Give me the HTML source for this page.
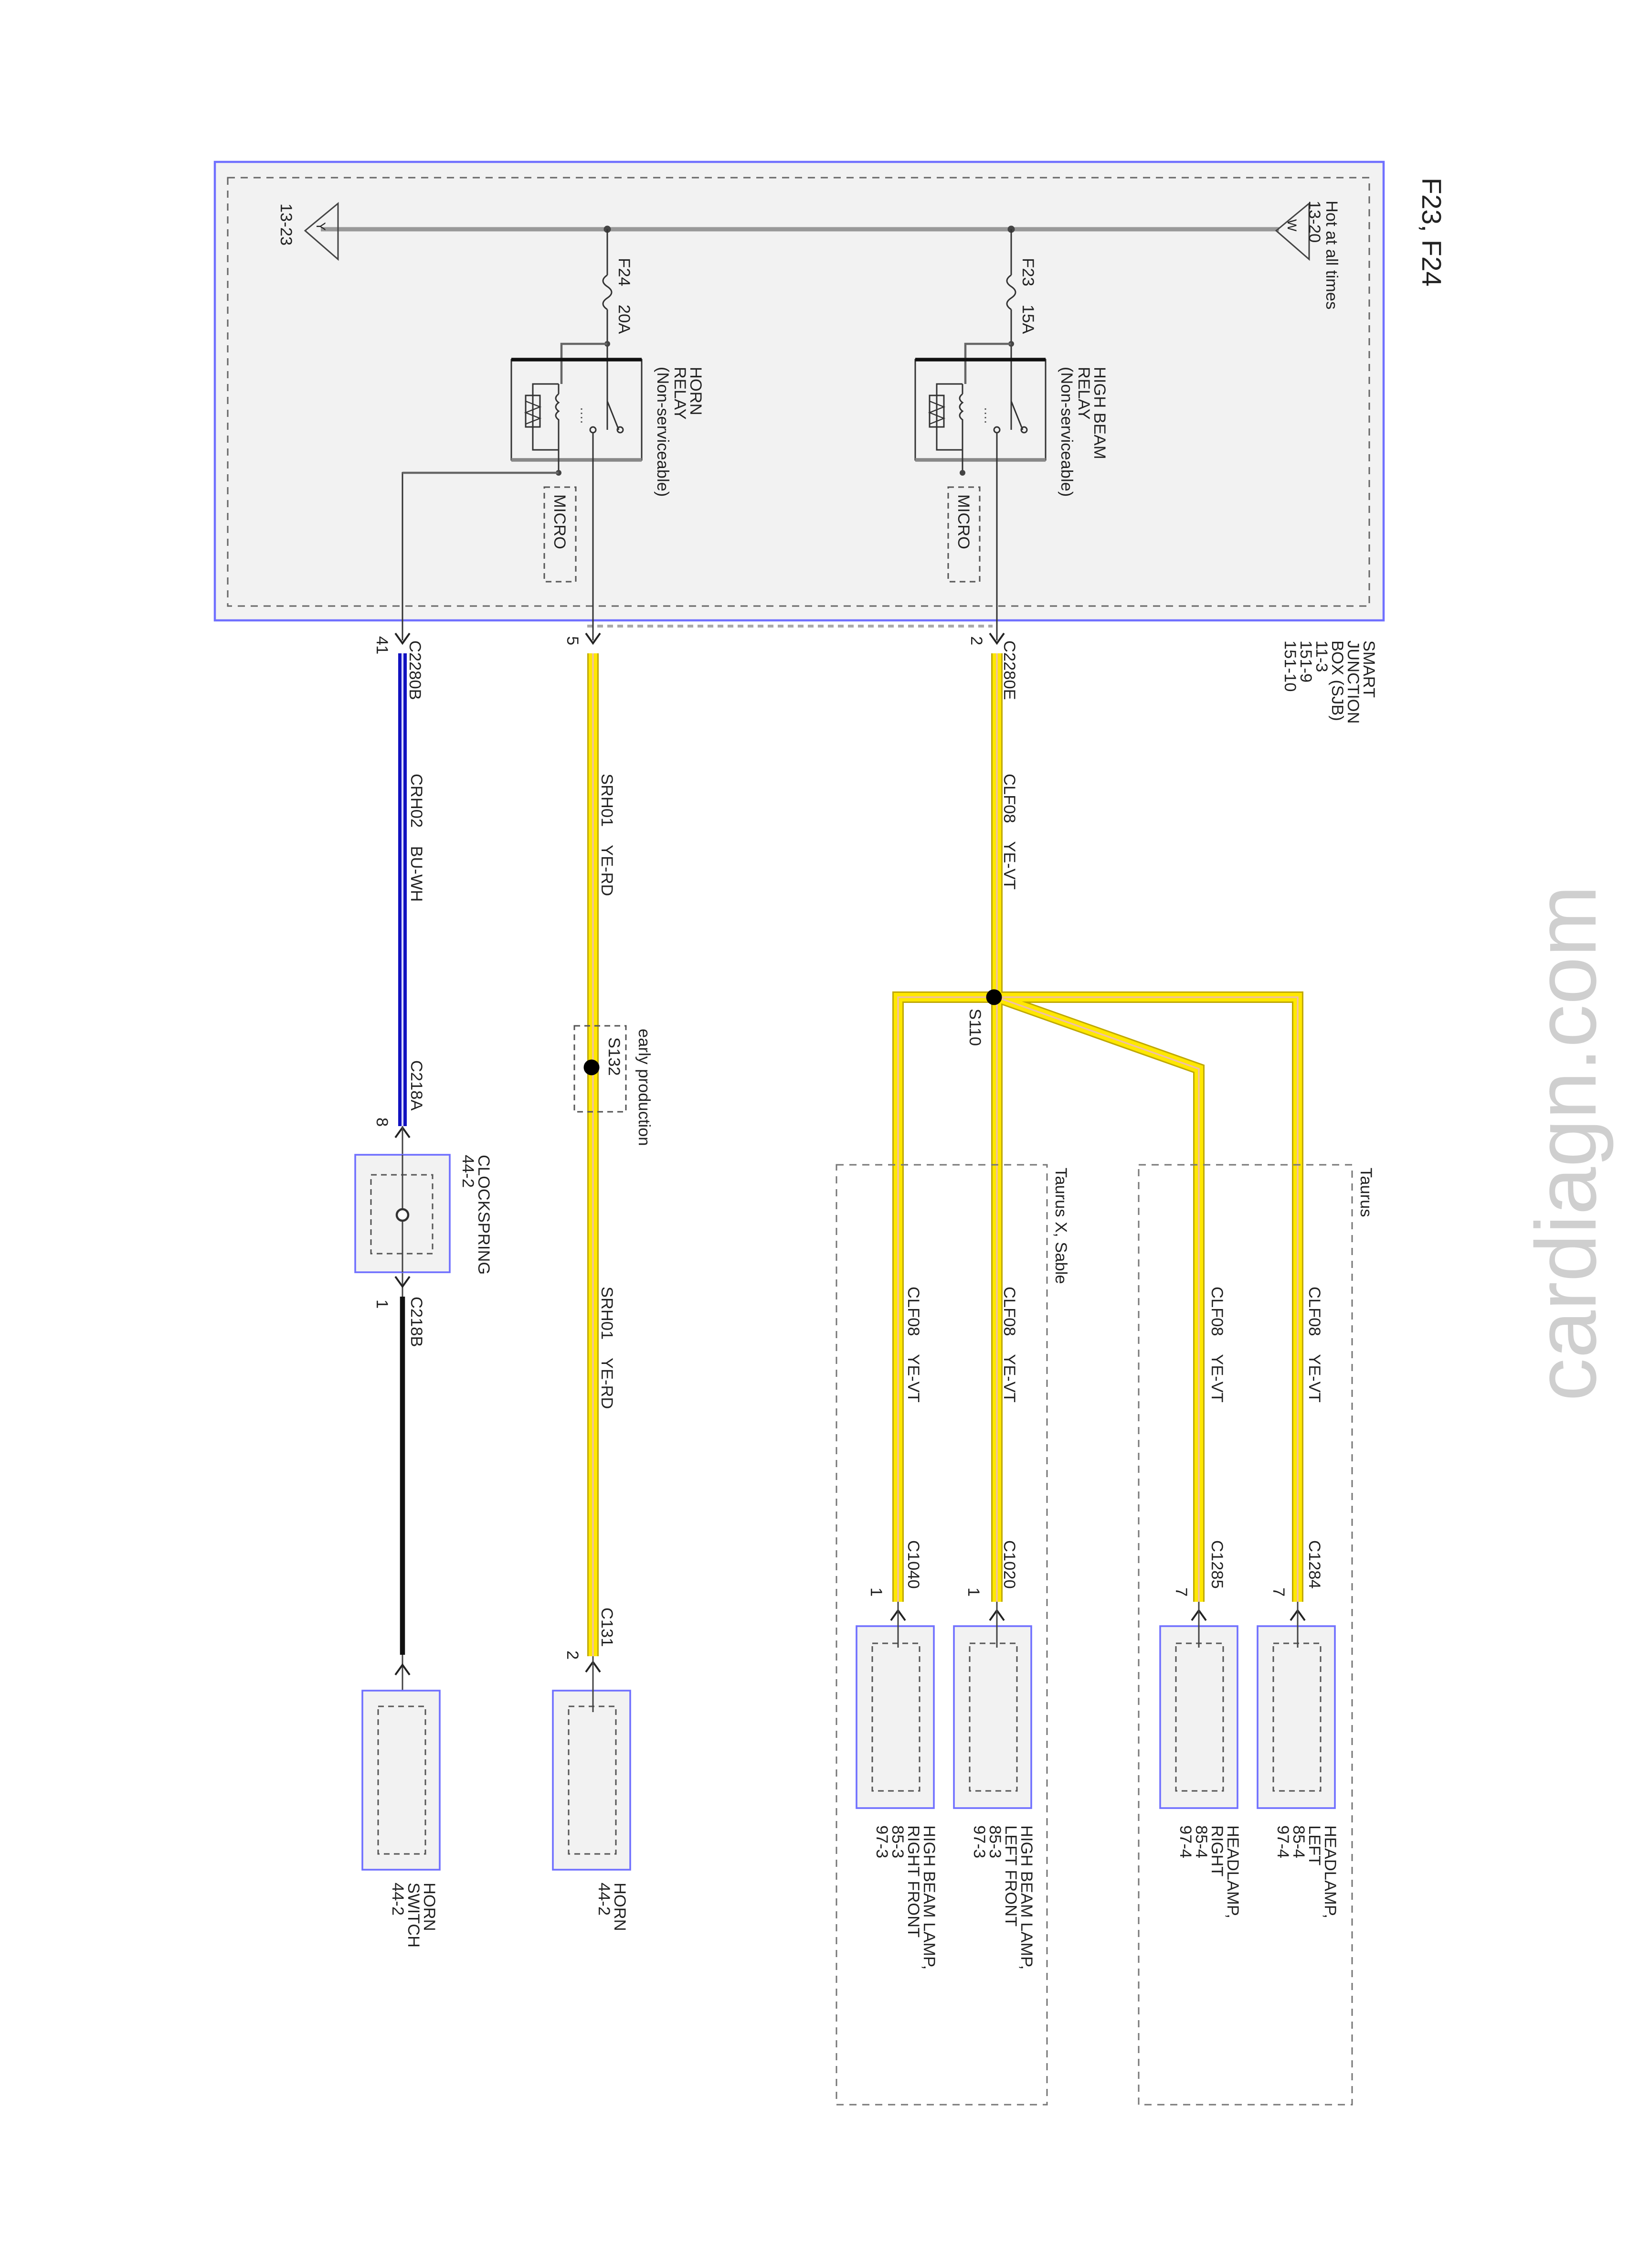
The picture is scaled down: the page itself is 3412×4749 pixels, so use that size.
<!DOCTYPE html>
<html><head><meta charset="utf-8"><style>
html,body{margin:0;padding:0;background:#fff}
svg{display:block}
text{font-family:"Liberation Sans",sans-serif;fill:#222;white-space:pre}
</style></head><body>
<svg width="3412" height="4749" viewBox="0 0 1137.33 1583" xmlns="http://www.w3.org/2000/svg" xml:space="preserve">
<defs>
<g id="chev"><path d="M-5,-7 L0,0 L5,-7" fill="none" stroke="#222" stroke-width="1.3"/></g>
</defs>
<rect x="0" y="0" width="1137.33" height="1583" fill="#fff"/>

<rect x="150" y="113" width="816" height="320" fill="#f2f2f2" stroke="#7070ff" stroke-width="1.5"/>
<rect x="159" y="124" width="797" height="299" fill="none" stroke="#666" stroke-width="1" stroke-dasharray="5,4"/>
<line x1="410" y1="437" x2="693" y2="437" stroke="#aaa" stroke-width="2" stroke-dasharray="4,3"/>

<text transform="translate(993,124) rotate(90)" font-size="19">F23, F24</text>

<line x1="224" y1="160" x2="893" y2="160" stroke="#999" stroke-width="3"/>
<path d="M236,142 L213,161 L236,181 Z" fill="none" stroke="#444" stroke-width="1"/>
<text transform="translate(221,155) rotate(90)" font-size="9">Y</text>
<path d="M914,142 L891,161 L914,181 Z" fill="none" stroke="#444" stroke-width="1"/>
<text transform="translate(899,153) rotate(90)" font-size="9">W</text>
<text transform="translate(196,142) rotate(90)" font-size="11.5">13-23</text>
<text transform="translate(926,140) rotate(90)" font-size="11.5">Hot at all times</text>
<text transform="translate(914,140) rotate(90)" font-size="11.5">13-20</text>

<g id="r1">
<circle cx="424" cy="160" r="2.5" fill="#444"/>
<line x1="424" y1="160" x2="424" y2="192" stroke="#333" stroke-width="1"/>
<path d="M424,192 q-6,4 0,8 q6,4 0,8 q-6,4 0,8" fill="none" stroke="#333" stroke-width="1"/>
<line x1="424" y1="216" x2="424" y2="300" stroke="#333" stroke-width="1"/>
<circle cx="424" cy="240" r="2" fill="#444"/>
<path d="M424,240 H392 V268" fill="none" stroke="#666" stroke-width="1.5"/>
<rect x="357" y="251" width="91" height="70" fill="none" stroke="#333" stroke-width="1"/>
<line x1="357" y1="251" x2="448" y2="251" stroke="#111" stroke-width="2.5"/>
<line x1="357" y1="321" x2="448" y2="321" stroke="#888" stroke-width="2.5"/>
<line x1="424" y1="280" x2="432" y2="300" stroke="#333"/>
<circle cx="433" cy="300" r="2" fill="none" stroke="#333"/>
<circle cx="414" cy="300" r="2" fill="none" stroke="#333"/>
<line x1="406" y1="285" x2="406" y2="295" stroke="#555" stroke-dasharray="1,2"/>
<path d="M390,268 V275 M390,275 q-4,3 0,6 q-4,3 0,6 q-4,3 0,6 V314" fill="none" stroke="#333"/>
<path d="M390,268 H372 V314 H390" fill="none" stroke="#333"/>
<rect x="367" y="276" width="10" height="22" fill="none" stroke="#333"/>
<path d="M367,280 l10,4 l-10,4 l10,4 l-10,4" fill="none" stroke="#333" stroke-width=".8"/>
<line x1="390" y1="314" x2="390" y2="330" stroke="#333"/>
<circle cx="390" cy="330" r="2" fill="#444"/>
<rect x="380" y="340" width="22" height="66" fill="none" stroke="#555" stroke-dasharray="4,3"/>
<text transform="translate(387,345) rotate(90)" font-size="11.5">MICRO</text>
</g>
<line x1="414" y1="302" x2="414" y2="447" stroke="#333"/>
<path d="M390,330 H281 V447" fill="none" stroke="#333" stroke-width="1"/>
<line x1="281" y1="330" x2="390" y2="330" stroke="#666" stroke-width="1.5"/>
<text transform="translate(482,256) rotate(90)" font-size="11.5">HORN</text>
<text transform="translate(471,256) rotate(90)" font-size="11.5">RELAY</text>
<text transform="translate(459,256) rotate(90)" font-size="11.5">(Non-serviceable)</text>
<text transform="translate(432,180) rotate(90)" font-size="11.5">F24    20A</text>

<use href="#r1" transform="translate(282,0)"/>
<line x1="696" y1="302" x2="696" y2="447" stroke="#333"/>
<text transform="translate(764,256) rotate(90)" font-size="11.5">HIGH BEAM</text>
<text transform="translate(753,256) rotate(90)" font-size="11.5">RELAY</text>
<text transform="translate(741,256) rotate(90)" font-size="11.5">(Non-serviceable)</text>
<text transform="translate(714,180) rotate(90)" font-size="11.5">F23    15A</text>

<text transform="translate(952,447) rotate(90)" font-size="11.5">SMART</text>
<text transform="translate(941,447) rotate(90)" font-size="11.5">JUNCTION</text>
<text transform="translate(930,447) rotate(90)" font-size="11.5">BOX (SJB)</text>
<text transform="translate(919,447) rotate(90)" font-size="11.5">11-3</text>
<text transform="translate(908,447) rotate(90)" font-size="11.5">151-9</text>
<text transform="translate(897,447) rotate(90)" font-size="11.5">151-10</text>

<use href="#chev" transform="translate(281,449)"/>
<use href="#chev" transform="translate(414,449)"/>
<use href="#chev" transform="translate(696,449)"/>
<text transform="translate(263,444) rotate(90)" font-size="11.5">41</text>
<text transform="translate(396,444) rotate(90)" font-size="11.5">5</text>
<text transform="translate(678,444) rotate(90)" font-size="11.5">2</text>
<text transform="translate(286,447) rotate(90)" font-size="11.5">C2280B</text>
<text transform="translate(701,447) rotate(90)" font-size="11.5">C2280E</text>

<line x1="281" y1="456" x2="281" y2="786" stroke="#1010c0" stroke-width="6"/>
<line x1="281" y1="456" x2="281" y2="786" stroke="#d8d8ff" stroke-width="1.4"/>
<text transform="translate(287,540) rotate(90)" font-size="11.5">CRH02    BU-WH</text>
<text transform="translate(287,740) rotate(90)" font-size="11.5">C218A</text>
<text transform="translate(263,780) rotate(90)" font-size="11.5">8</text>
<use href="#chev" transform="translate(281,787) rotate(180)"/>
<line x1="281" y1="786" x2="281" y2="905" stroke="#444"/>
<rect x="248" y="806" width="66" height="82" fill="#f2f2f2" stroke="#7070ff" stroke-width="1.2"/>
<rect x="259" y="820" width="43" height="55" fill="none" stroke="#555" stroke-dasharray="4,3"/>
<line x1="281" y1="806" x2="281" y2="888" stroke="#444"/>
<circle cx="281" cy="848" r="4" fill="#fff" stroke="#333" stroke-width="1.5"/>
<text transform="translate(334,806) rotate(90)" font-size="11.5">CLOCKSPRING</text>
<text transform="translate(323,806) rotate(90)" font-size="11.5">44-2</text>
<use href="#chev" transform="translate(281,898)"/>
<text transform="translate(287,905) rotate(90)" font-size="11.5">C218B</text>
<text transform="translate(263,907) rotate(90)" font-size="11.5">1</text>
<line x1="281" y1="905" x2="281" y2="1155" stroke="#111" stroke-width="3.5"/>
<line x1="281" y1="1155" x2="281" y2="1180" stroke="#444"/>
<use href="#chev" transform="translate(281,1162) rotate(180)"/>
<rect x="253" y="1180" width="54" height="125" fill="#f2f2f2" stroke="#7070ff" stroke-width="1.2"/>
<rect x="264" y="1191" width="33" height="103" fill="none" stroke="#555" stroke-dasharray="4,3"/>
<text transform="translate(296,1314) rotate(90)" font-size="11.5">HORN</text>
<text transform="translate(285,1314) rotate(90)" font-size="11.5">SWITCH</text>
<text transform="translate(274,1314) rotate(90)" font-size="11.5">44-2</text>

<g fill="none" stroke-linejoin="miter">
<path d="M414,456 V1156 M696,456 V696 M696,696 V1118 M696,696 H627 V1118 M696,696 H906 V1118 M696,696 L837,746 V1118" stroke="#bfa800" stroke-width="8"/>
<path d="M414,456 V1156 M696,456 V696 M696,696 V1118 M696,696 H627 V1118 M696,696 H906 V1118 M696,696 L837,746 V1118" stroke="#ffe800" stroke-width="6"/>
<path d="M414,456 V1156 M696,456 V696 M696,696 V1118 M696,696 H627 V1118 M696,696 H906 V1118 M696,696 L837,746 V1118" stroke="#f0c0a0" stroke-width="1.2"/>
</g>
<text transform="translate(420,540) rotate(90)" font-size="11.5">SRH01    YE-RD</text>
<text transform="translate(420,898) rotate(90)" font-size="11.5">SRH01    YE-RD</text>
<rect x="401" y="716" width="36" height="60" fill="none" stroke="#555" stroke-dasharray="4,3"/>
<circle cx="413" cy="745" r="5.5" fill="#000"/>
<text transform="translate(425,724) rotate(90)" font-size="11.5">S132</text>
<text transform="translate(446,718) rotate(90)" font-size="11.5">early production</text>
<text transform="translate(420,1122) rotate(90)" font-size="11.5">C131</text>
<text transform="translate(396,1152) rotate(90)" font-size="11.5">2</text>
<use href="#chev" transform="translate(414,1160) rotate(180)"/>
<rect x="386" y="1180" width="54" height="125" fill="#f2f2f2" stroke="#7070ff" stroke-width="1.2"/>
<rect x="397" y="1191" width="33" height="103" fill="none" stroke="#555" stroke-dasharray="4,3"/>
<line x1="414" y1="1156" x2="414" y2="1195" stroke="#444"/>
<text transform="translate(429,1314) rotate(90)" font-size="11.5">HORN</text>
<text transform="translate(418,1314) rotate(90)" font-size="11.5">44-2</text>

<text transform="translate(701,540) rotate(90)" font-size="11.5">CLF08    YE-VT</text>
<circle cx="694" cy="696" r="5.5" fill="#000"/>
<text transform="translate(677,704) rotate(90)" font-size="11.5">S110</text>

<rect x="584" y="813" width="147" height="656" fill="none" stroke="#777" stroke-dasharray="5,4"/>
<rect x="795" y="813" width="149" height="656" fill="none" stroke="#777" stroke-dasharray="5,4"/>
<text transform="translate(737,815) rotate(90)" font-size="11.5">Taurus X, Sable</text>
<text transform="translate(950,815) rotate(90)" font-size="11.5">Taurus</text>

<g font-size="11.5">
<text transform="translate(634,898) rotate(90)">CLF08    YE-VT</text>
<text transform="translate(701,898) rotate(90)">CLF08    YE-VT</text>
<text transform="translate(846,898) rotate(90)">CLF08    YE-VT</text>
<text transform="translate(914,898) rotate(90)">CLF08    YE-VT</text>
<text transform="translate(634,1075) rotate(90)">C1040</text>
<text transform="translate(701,1075) rotate(90)">C1020</text>
<text transform="translate(846,1075) rotate(90)">C1285</text>
<text transform="translate(914,1075) rotate(90)">C1284</text>
<text transform="translate(608,1108) rotate(90)">1</text>
<text transform="translate(676,1108) rotate(90)">1</text>
<text transform="translate(821,1108) rotate(90)">7</text>
<text transform="translate(889,1108) rotate(90)">7</text>
</g>
<use href="#chev" transform="translate(627,1124) rotate(180)"/>
<use href="#chev" transform="translate(696,1124) rotate(180)"/>
<use href="#chev" transform="translate(837,1124) rotate(180)"/>
<use href="#chev" transform="translate(906,1124) rotate(180)"/>
<g fill="#f2f2f2" stroke="#7070ff" stroke-width="1.2">
<rect x="598" y="1135" width="54" height="127"/>
<rect x="666" y="1135" width="54" height="127"/>
<rect x="810" y="1135" width="54" height="127"/>
<rect x="878" y="1135" width="54" height="127"/>
</g>
<g fill="none" stroke="#555" stroke-dasharray="4,3">
<rect x="609" y="1147" width="33" height="103"/>
<rect x="677" y="1147" width="33" height="103"/>
<rect x="821" y="1147" width="33" height="103"/>
<rect x="889" y="1147" width="33" height="103"/>
</g>
<g stroke="#444">
<line x1="627" y1="1118" x2="627" y2="1150"/>
<line x1="696" y1="1118" x2="696" y2="1150"/>
<line x1="837" y1="1118" x2="837" y2="1150"/>
<line x1="906" y1="1118" x2="906" y2="1150"/>
</g>
<g font-size="11.5">
<text transform="translate(645,1274) rotate(90)">HIGH BEAM LAMP,</text>
<text transform="translate(634,1274) rotate(90)">RIGHT FRONT</text>
<text transform="translate(623,1274) rotate(90)">85-3</text>
<text transform="translate(612,1274) rotate(90)">97-3</text>
<text transform="translate(713,1274) rotate(90)">HIGH BEAM LAMP,</text>
<text transform="translate(702,1274) rotate(90)">LEFT FRONT</text>
<text transform="translate(691,1274) rotate(90)">85-3</text>
<text transform="translate(680,1274) rotate(90)">97-3</text>
<text transform="translate(857,1274) rotate(90)">HEADLAMP,</text>
<text transform="translate(846,1274) rotate(90)">RIGHT</text>
<text transform="translate(835,1274) rotate(90)">85-4</text>
<text transform="translate(824,1274) rotate(90)">97-4</text>
<text transform="translate(925,1274) rotate(90)">HEADLAMP,</text>
<text transform="translate(914,1274) rotate(90)">LEFT</text>
<text transform="translate(903,1274) rotate(90)">85-4</text>
<text transform="translate(892,1274) rotate(90)">97-4</text>
</g>

<text transform="translate(1114,978) rotate(-90)" font-size="60" style="fill:#cfcfcf">cardiagn.com</text>
</svg>
</body></html>
